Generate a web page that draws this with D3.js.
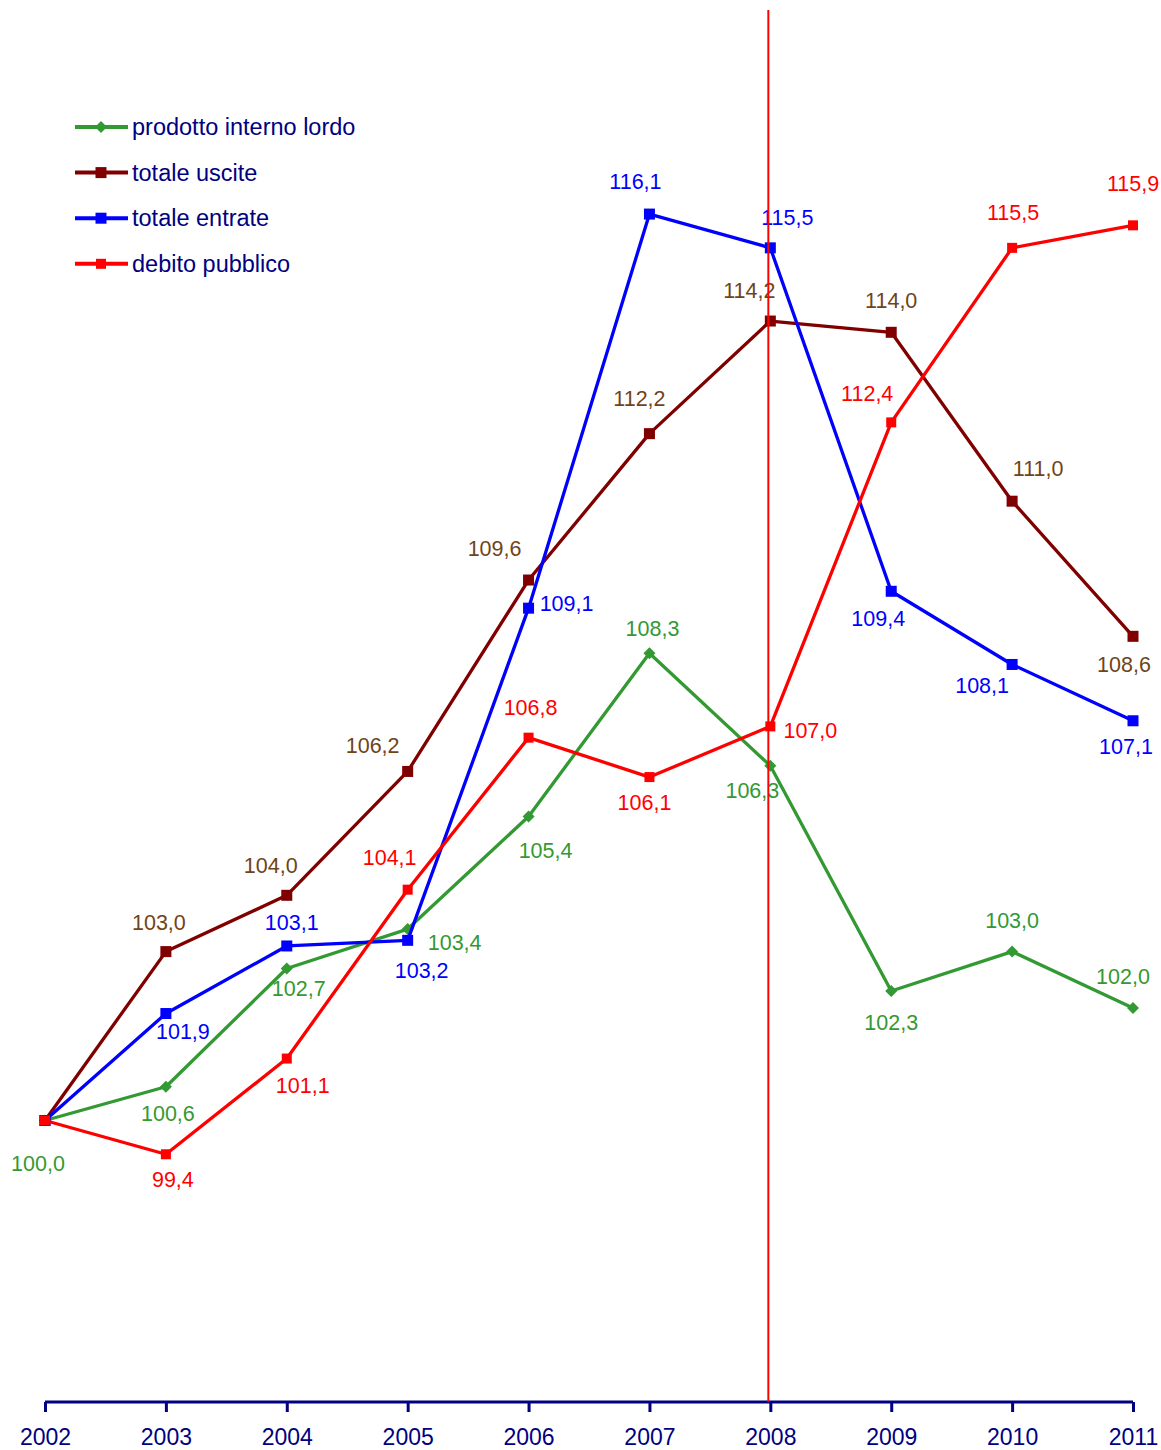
<!DOCTYPE html>
<html>
<head>
<meta charset="utf-8">
<script src="https://cdn.jsdelivr.net/npm/d3@7"></script>
<style>
  html, body { margin: 0; padding: 0; background: #fff; }
  svg { display: block; font-family: "Liberation Sans", Arial, Helvetica, sans-serif; }
</style>
</head>
<body>
<svg id="chart" width="1161" height="1450"></svg>
<script>
// Indici (2002 = 100)
const years = ["2002", "2003", "2004", "2005", "2006", "2007", "2008", "2009", "2010", "2011"];
const pil      = [100.0, 100.6, 102.7, 103.4, 105.4, 108.3, 106.3, 102.3, 103.0, 102.0];
const uscite   = [100.0, 103.0, 104.0, 106.2, 109.6, 112.2, 114.2, 114.0, 111.0, 108.6];
const entrate  = [100.0, 101.9, 103.1, 103.2, 109.1, 116.1, 115.5, 109.4, 108.1, 107.1];
const debito   = [100.0,  99.4, 101.1, 104.1, 106.8, 106.1, 107.0, 112.4, 115.5, 115.9];
const seriesNames = ["prodotto interno lordo", "totale uscite", "totale entrate", "debito pubblico"];
const markerYear = "2008";

// Label placement relative to each point (null = no label)
const pilLabelOffsets = [[-7, 43], [2, 27], [12, 20], [47, 13], [17, 34], [3, -25], [-18, 25], [0, 31], [0, -31], [-10, -31]];
const uscLabelOffsets = [null, [-7, -29], [-16, -30], [-35, -26], [-34, -32], [-10, -35], [-21, -31], [0, -32], [26, -33], [-9, 28]];
const entLabelOffsets = [null, [17, 18], [5, -23], [14, 30], [38, -5], [-14, -33], [17, -30], [-13, 27], [-30, 21], [-7, 26]];
const debLabelOffsets = [null, [7, 25], [16, 27], [-18, -32], [2, -30], [-5, 25], [40, 4], [-24, -29], [1, -35], [0, -42]];

const series = [
  { name: seriesNames[0], values: pil,     offsets: pilLabelOffsets, line: "#339933", text: "#339933", marker: "diamond", size: 12 },
  { name: seriesNames[1], values: uscite,  offsets: uscLabelOffsets, line: "#800000", text: "#704416", marker: "square",  size: 11 },
  { name: seriesNames[2], values: entrate, offsets: entLabelOffsets, line: "#0000ff", text: "#0000ff", marker: "square",  size: 11 },
  { name: seriesNames[3], values: debito,  offsets: debLabelOffsets, line: "#ff0000", text: "#ff0000", marker: "square",  size: 10 }
];

const svg = d3.select("#chart");
const axisColor = "#000080";

const x = d3.scalePoint().domain(years).range([45, 1133]);
const y = d3.scaleLinear().domain([95, 120]).range([1402, -5.5]);

const fmt = v => d3.format(".1f")(v).replace(".", ",");

// X axis
const axis = svg.append("g")
  .attr("transform", "translate(0,1402)")
  .call(d3.axisBottom(x).tickSize(10).tickPadding(16.5));
axis.select(".domain")
  .attr("d", `M${x(years[0])},0H${x(years[years.length - 1])}`)
  .attr("stroke", axisColor).attr("stroke-width", 3);
axis.selectAll(".tick line").attr("stroke", axisColor).attr("stroke-width", 3);
axis.selectAll(".tick text")
  .attr("fill", axisColor)
  .style("font-size", "23px")
  .style("font-family", "'Liberation Sans', Arial, sans-serif");

function drawMarker(g, type, cx, cy, size, color) {
  if (type === "diamond") {
    const h = size / 2;
    g.append("path")
      .attr("d", `M${cx},${cy - h}L${cx + h},${cy}L${cx},${cy + h}L${cx - h},${cy}Z`)
      .attr("fill", color);
  } else {
    g.append("rect")
      .attr("x", cx - size / 2).attr("y", cy - size / 2)
      .attr("width", size).attr("height", size)
      .attr("fill", color);
  }
}

const lineGen = d3.line()
  .x((d, i) => x(years[i]))
  .y(d => y(d));

const plot = svg.append("g");
series.forEach(s => {
  const g = plot.append("g");
  g.append("path")
    .datum(s.values)
    .attr("d", lineGen)
    .attr("fill", "none")
    .attr("stroke", s.line)
    .attr("stroke-width", 3.3)
    .attr("stroke-linejoin", "round");
  s.values.forEach((v, i) => drawMarker(g, s.marker, x(years[i]), y(v), s.size, s.line));
});

// Value labels
series.forEach(s => {
  s.values.forEach((v, i) => {
    const off = s.offsets[i];
    if (!off) return;
    svg.append("text")
      .attr("x", x(years[i]) + off[0])
      .attr("y", y(v) + off[1])
      .attr("dy", "0.35em")
      .attr("text-anchor", "middle")
      .attr("fill", s.text)
      .style("font-size", "21.5px")
      .text(fmt(v));
  });
});

// Reference line on 2008
svg.append("line")
  .attr("x1", x(markerYear) - 2).attr("x2", x(markerYear) - 2)
  .attr("y1", 10).attr("y2", 1402)
  .attr("stroke", "#ff0000").attr("stroke-width", 2);

// Legend
const legend = svg.append("g");
series.forEach((s, i) => {
  const ly = 127 + i * 45.6;
  legend.append("line")
    .attr("x1", 75).attr("x2", 128).attr("y1", ly).attr("y2", ly)
    .attr("stroke", s.line).attr("stroke-width", 4);
  drawMarker(legend, s.marker, 101, ly, s.size, s.line);
  legend.append("text")
    .attr("x", 132).attr("y", ly).attr("dy", "0.35em")
    .attr("fill", axisColor)
    .style("font-size", "23.5px")
    .text(s.name);
});
</script>
</body>
</html>
